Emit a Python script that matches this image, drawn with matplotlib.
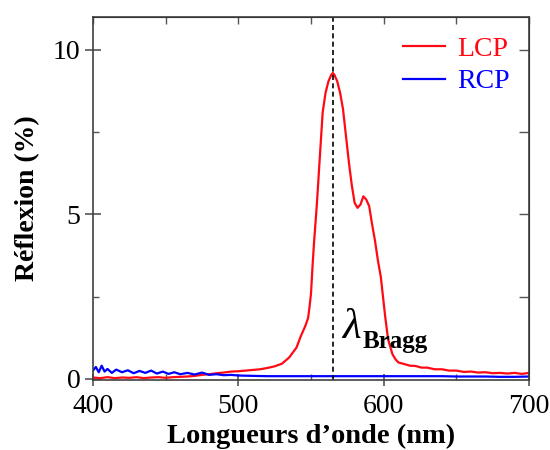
import matplotlib
matplotlib.use("Agg")
import matplotlib.pyplot as plt
from matplotlib.ticker import MultipleLocator

plt.rcParams['font.family'] = ['Liberation Serif', 'DejaVu Serif']

# LCP reflexion (%) vs wavelength (nm)
lcp_wl = [400, 405, 410, 415, 420, 425, 430, 435, 440, 445, 450, 455, 460, 465,
          470, 475, 480, 485, 490, 495, 500, 505, 510, 515, 520, 525, 530, 535,
          540, 543, 546, 548, 549, 550, 551, 552, 553, 554, 555, 556, 557, 558,
          560, 562, 564, 565, 566, 568, 570, 572, 574, 576, 578, 580, 582, 584,
          586, 588, 590, 592, 594, 596, 598, 600, 601, 603, 606, 608, 610, 614,
          618, 622, 626, 630, 635, 640, 645, 650, 655, 660, 665, 670, 675, 680,
          685, 690, 695, 700]
lcp_val = [0.04, 0.02, 0.05, 0.02, 0.04, 0.03, 0.05, 0.02, 0.04, 0.05, 0.03, 0.05, 0.06, 0.07,
           0.09, 0.12, 0.14, 0.17, 0.19, 0.22, 0.23, 0.25, 0.27, 0.29, 0.33, 0.38, 0.46, 0.65,
           0.95, 1.3, 1.6, 1.85, 2.2, 2.6, 3.4, 4.1, 4.7, 5.3, 6.0, 6.7, 7.4, 8.1,
           8.7, 9.05, 9.25, 9.3, 9.25, 9.05, 8.7, 8.2, 7.4, 6.6, 5.9, 5.35, 5.2, 5.3,
           5.55, 5.45, 5.25, 4.7, 4.2, 3.6, 3.1, 2.3, 1.9, 1.2, 0.75, 0.6, 0.5, 0.45,
           0.40, 0.39, 0.34, 0.34, 0.29, 0.29, 0.25, 0.25, 0.21, 0.22, 0.19, 0.2, 0.17, 0.18,
           0.16, 0.18, 0.15, 0.18]

# RCP reflexion (%) vs wavelength (nm)
rcp_wl = [400, 402, 404, 406, 408, 410, 413, 416, 420, 424, 428, 432, 436, 440,
          444, 448, 452, 456, 460, 465, 470, 475, 480, 485, 490, 495, 500, 510,
          520, 530, 540, 550, 560, 570, 580, 590, 600, 610, 620, 630, 640, 650,
          660, 670, 680, 690, 700]
rcp_val = [0.25, 0.36, 0.2, 0.4, 0.22, 0.3, 0.18, 0.28, 0.2, 0.26, 0.17, 0.24, 0.18, 0.25,
           0.16, 0.22, 0.15, 0.2, 0.14, 0.18, 0.13, 0.19, 0.12, 0.14, 0.11, 0.12, 0.1, 0.09,
           0.08, 0.08, 0.08, 0.08, 0.08, 0.08, 0.08, 0.08, 0.08, 0.08, 0.08, 0.08, 0.08, 0.07,
           0.07, 0.07, 0.06, 0.06, 0.07]

bragg = 565

fig = plt.figure(figsize=(5.5, 4.5), dpi=100)
ax = fig.add_axes([0.169, 0.156, 0.793, 0.806])

ax.plot(lcp_wl, lcp_val, color='#ff0a14', lw=1.6, label='LCP')
ax.plot(rcp_wl, rcp_val, color='#0000ff', lw=1.6, label='RCP')
ax.axvline(bragg, color='black', lw=1.2, ls=(0, (3, 2)))

ax.set_xlim(400, 700)
ax.set_ylim(-0.03, 11)

spine_col = '#404040'
for s in ax.spines.values():
    s.set_color(spine_col)
    s.set_linewidth(1.2)

ax.xaxis.set_major_locator(MultipleLocator(100))
ax.xaxis.set_minor_locator(MultipleLocator(50))
ax.yaxis.set_major_locator(MultipleLocator(5))
ax.yaxis.set_minor_locator(MultipleLocator(2.5))
ax.tick_params(which='major', direction='inout', length=12, width=1.2, color='#555555',
               labelsize=20, pad=3)
ax.tick_params(axis='x', which='major', length=9, pad=6)
ax.tick_params(which='minor', direction='in', length=4, width=1.0, color='#555555')

top = ax.secondary_xaxis('top')
top.xaxis.set_major_locator(MultipleLocator(50))
top.tick_params(direction='in', length=5, width=1.0, color='#555555', labeltop=False)
right = ax.secondary_yaxis('right')
right.set_yticks([2.5, 5, 7.5, 10])
right.tick_params(direction='in', length=7, width=1.0, color='#555555', labelright=False)

ax.set_xlabel('Longueurs d\u2019onde (nm)', fontsize=20.5, fontweight='bold', labelpad=3)
ax.set_ylabel('Réflexion (%)', fontsize=20, fontweight='bold', labelpad=9)

ax.text(571.5, 1.25, '\u03bb', fontsize=31, style='italic', va='baseline')
ax.text(585.5, 0.95, 'Bragg', fontsize=18, fontweight='bold', va='baseline')

leg = ax.legend(loc='upper right', frameon=False, fontsize=20, handlelength=1.5,
                handletextpad=0.45, labelspacing=0.25, borderaxespad=0.3)
for txt, ln in zip(leg.get_texts(), leg.get_lines()):
    txt.set_color(ln.get_color())

fig.savefig('out.png', dpi=100)
